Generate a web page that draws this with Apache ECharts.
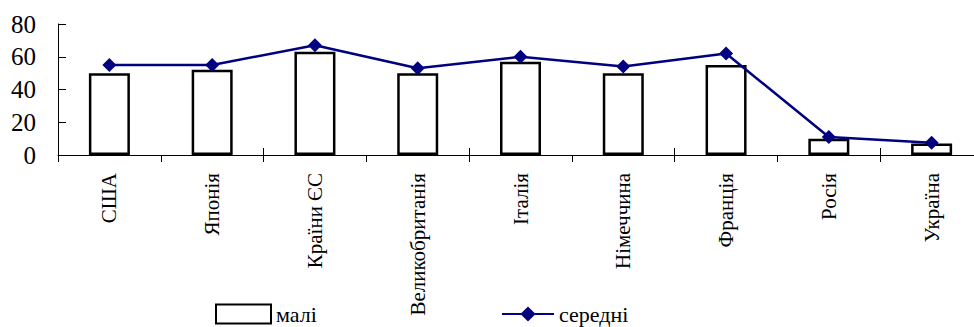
<!DOCTYPE html>
<html>
<head>
<meta charset="utf-8">
<script src="https://cdn.jsdelivr.net/npm/echarts@6/dist/echarts.min.js"></script>
<style>
  html, body { margin: 0; padding: 0; background: #fff; overflow: hidden; width: 974px; height: 327px; }
  #chart { width: 983px; height: 327px; }
</style>
</head>
<body>
<div id="chart"></div>
<script>
// Countries along the category axis
const countries = ['США', 'Японія', 'Країни ЄС', 'Великобританія', 'Італія', 'Німеччина', 'Франція', 'Росія', 'Україна'];
// Bar series: small businesses
const smallValues = [50, 52, 63, 50, 57, 50, 55, 10, 7];
// Line series: medium businesses
const mediumValues = [55, 55, 67, 53, 60, 54, 62, 11, 7.5];
// Value axis ticks
const yTicks = [0, 20, 40, 60, 80];

const serif = 'serif';
const chart = echarts.init(document.getElementById('chart'), null, { renderer: 'svg' });

chart.setOption({
  animation: false,
  backgroundColor: '#ffffff',
  textStyle: { fontFamily: serif, color: '#000' },
  grid: { left: 58, top: 24, bottom: 172, right: 0, containLabel: false, outerBoundsMode: 'none' },
  xAxis: [
    {
      type: 'category',
      data: countries,
      position: 'bottom',
      axisLine: { show: true, lineStyle: { color: '#000', width: 1 } },
      axisTick: { show: true, length: 7, inside: false, lineStyle: { color: '#000' } },
      axisLabel: {
        rotate: 90, margin: 18, color: '#000',
        fontFamily: serif, fontSize: 21, interval: 0
      }
    },
    {
      // inner half of the crossing category ticks
      type: 'category',
      data: countries,
      position: 'bottom',
      axisLine: { show: false },
      axisTick: { show: true, length: 7, inside: true, lineStyle: { color: '#000' } },
      axisLabel: { show: false }
    }
  ],
  yAxis: {
    type: 'value',
    min: yTicks[0],
    max: yTicks[yTicks.length - 1],
    interval: 20,
    axisLine: { show: true, lineStyle: { color: '#000', width: 1 } },
    axisTick: { show: true, inside: true, length: 8, lineStyle: { color: '#000' } },
    splitLine: { show: false },
    axisLabel: { color: '#000', fontFamily: serif, fontSize: 25, margin: 22 }
  },
  legend: [
    {
      data: [{ name: 'малі', icon: 'rect' }],
      left: 215, top: 303,
      itemWidth: 55, itemHeight: 19, itemGap: 0,
      textStyle: { color: '#000', fontFamily: serif, fontSize: 22 },
      padding: 0
    },
    {
      data: ['середні'],
      left: 501, top: 303,
      itemWidth: 52, itemHeight: 19,
      textStyle: { color: '#000', fontFamily: serif, fontSize: 22 },
      padding: 0
    }
  ],
  series: [
    {
      name: 'малі',
      type: 'bar',
      data: smallValues,
      barWidth: 41,
      itemStyle: { color: '#ffffff', borderColor: '#000', borderWidth: 2.5 },
      z: 2
    },
    {
      name: 'середні',
      type: 'line',
      data: mediumValues,
      symbol: 'diamond',
      symbolSize: 14,
      lineStyle: { color: '#000080', width: 2.5 },
      itemStyle: { color: '#000080' },
      z: 3
    }
  ]
});
</script>
</body>
</html>
